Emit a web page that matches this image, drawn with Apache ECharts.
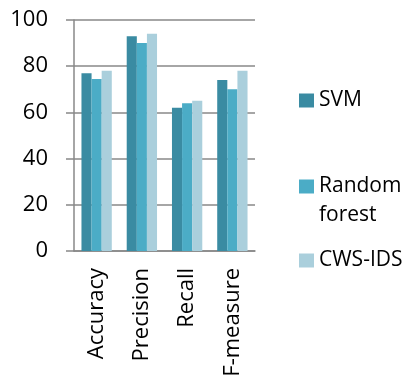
<!DOCTYPE html>
<html><head><meta charset="utf-8">
<script src="https://cdn.jsdelivr.net/npm/echarts@6/dist/echarts.min.js"></script>
<style>html,body{margin:0;padding:0;background:#fff}#c{width:412px;height:382px}</style>
</head><body><div id="c"></div>
<script>
const categories = ['Accuracy', 'Precision', 'Recall', 'F-measure'];
const svm = [77, 93, 62, 74];
const randomForest = [74.5, 90, 64, 70];
const cwsIds = [78, 94, 65, 78];
const seriesNames = ['SVM', 'Random\nforest', 'CWS-IDS'];
const yTicks = [0, 20, 40, 60, 80, 100];

const FONT = 'Open Sans';
const colors = ['#3a8ba2', '#4bacc6', '#aacfdc'];
const chart = echarts.init(document.getElementById('c'), null, {renderer: 'canvas'});
const legendTops = [81, 138, 241];
chart.setOption({
  animation: false,
  color: colors,
  grid: {left: 74, right: 157, top: 20, bottom: 131, containLabel: false},
  legend: seriesNames.map((n, i) => ({
    data: [n], orient: 'vertical', left: 294, top: legendTops[i],
    itemWidth: 15, itemHeight: 14, itemGap: 0, icon: 'rect',
    formatter: name => (i === 1 ? '\n' + name : name),
    textStyle: {fontFamily: FONT, fontSize: 21, color: '#000', lineHeight: 29}
  })),
  xAxis: {
    type: 'category', data: categories,
    axisLine: {lineStyle: {color: '#888', width: 1.5}},
    axisTick: {length: 8, lineStyle: {color: '#888', width: 1.5}},
    axisLabel: {rotate: 90, margin: 17, fontFamily: FONT, fontSize: 22, color: '#000'}
  },
  yAxis: {
    type: 'value', min: yTicks[0], max: yTicks[yTicks.length - 1], interval: 20,
    axisLine: {show: true, lineStyle: {color: '#888', width: 1.5}},
    axisTick: {show: true, length: 8, lineStyle: {color: '#888', width: 1.5}},
    splitLine: {lineStyle: {color: '#888', width: 1.5}},
    axisLabel: {margin: 26, fontFamily: FONT, fontSize: 22, color: '#000'}
  },
  series: [svm, randomForest, cwsIds].map((d, i) => ({
    type: 'bar', name: seriesNames[i], data: d,
    barGap: '0%', barCategoryGap: '33%'
  }))
});
</script></body></html>
